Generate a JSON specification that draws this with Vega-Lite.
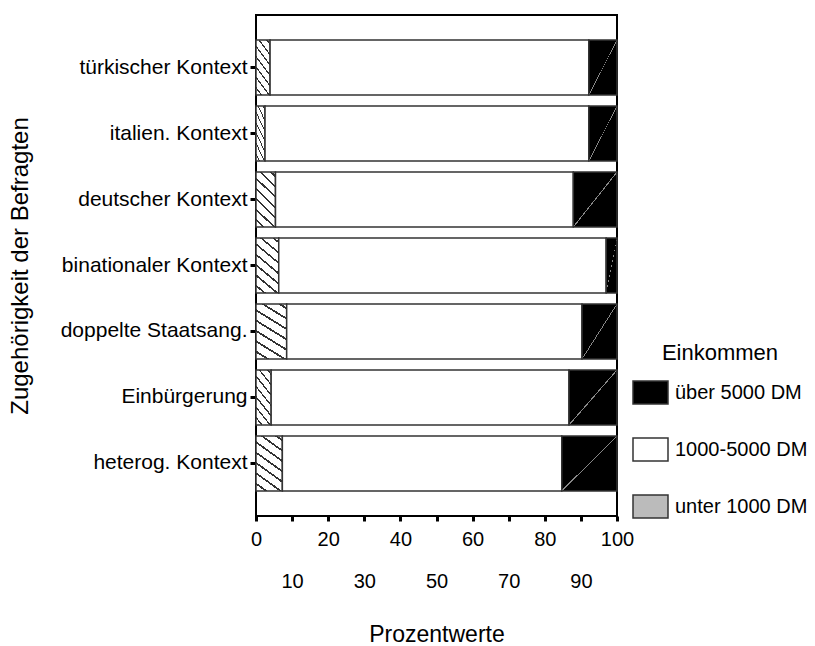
{
  "$schema": "https://vega.github.io/schema/vega-lite/v6.json",
  "autosize": {"type": "none"},
  "padding": {"left": 256, "top": 15, "right": 198, "bottom": 130},
  "width": 361,
  "height": 501,
  "background": "white",
  "config": {
    "font": "Liberation Sans",
    "view": {"stroke": "black", "strokeWidth": 2},
    "axis": {"labelColor": "black", "titleColor": "black", "titleFontWeight": "normal", "grid": false}
  },
  "data": {
    "values": [
      {"Gruppe": "türkischer Kontext", "Einkommen": "unter 1000 DM", "Prozent": 3.9},
      {"Gruppe": "türkischer Kontext", "Einkommen": "1000-5000 DM", "Prozent": 88.3},
      {"Gruppe": "türkischer Kontext", "Einkommen": "über 5000 DM", "Prozent": 7.8},
      {"Gruppe": "italien. Kontext", "Einkommen": "unter 1000 DM", "Prozent": 2.5},
      {"Gruppe": "italien. Kontext", "Einkommen": "1000-5000 DM", "Prozent": 89.7},
      {"Gruppe": "italien. Kontext", "Einkommen": "über 5000 DM", "Prozent": 7.8},
      {"Gruppe": "deutscher Kontext", "Einkommen": "unter 1000 DM", "Prozent": 5.4},
      {"Gruppe": "deutscher Kontext", "Einkommen": "1000-5000 DM", "Prozent": 82.5},
      {"Gruppe": "deutscher Kontext", "Einkommen": "über 5000 DM", "Prozent": 12.1},
      {"Gruppe": "binationaler Kontext", "Einkommen": "unter 1000 DM", "Prozent": 6.3},
      {"Gruppe": "binationaler Kontext", "Einkommen": "1000-5000 DM", "Prozent": 90.7},
      {"Gruppe": "binationaler Kontext", "Einkommen": "über 5000 DM", "Prozent": 3.0},
      {"Gruppe": "doppelte Staatsang.", "Einkommen": "unter 1000 DM", "Prozent": 8.5},
      {"Gruppe": "doppelte Staatsang.", "Einkommen": "1000-5000 DM", "Prozent": 81.8},
      {"Gruppe": "doppelte Staatsang.", "Einkommen": "über 5000 DM", "Prozent": 9.7},
      {"Gruppe": "Einbürgerung", "Einkommen": "unter 1000 DM", "Prozent": 4.2},
      {"Gruppe": "Einbürgerung", "Einkommen": "1000-5000 DM", "Prozent": 82.5},
      {"Gruppe": "Einbürgerung", "Einkommen": "über 5000 DM", "Prozent": 13.3},
      {"Gruppe": "heterog. Kontext", "Einkommen": "unter 1000 DM", "Prozent": 7.3},
      {"Gruppe": "heterog. Kontext", "Einkommen": "1000-5000 DM", "Prozent": 77.4},
      {"Gruppe": "heterog. Kontext", "Einkommen": "über 5000 DM", "Prozent": 15.3}
    ]
  },
  "transform": [
    {"calculate": "indexof(['unter 1000 DM','1000-5000 DM','über 5000 DM'], datum.Einkommen)", "as": "Reihenfolge"}
  ],
  "mark": {"type": "bar", "stroke": "#333", "strokeWidth": 1.5, "opacity": 1},
  "encoding": {
    "y": {
      "field": "Gruppe",
      "type": "nominal",
      "sort": ["türkischer Kontext", "italien. Kontext", "deutscher Kontext", "binationaler Kontext", "doppelte Staatsang.", "Einbürgerung", "heterog. Kontext"],
      "scale": {"paddingInner": 0.167, "paddingOuter": 0.38},
      "axis": {
        "title": "Zugehörigkeit der Befragten",
        "titleFontSize": 24,
        "titlePadding": 28,
        "labelFontSize": 21,
        "labelLimit": 400,
        "labelPadding": 3,
        "tickSize": 6,
        "tickWidth": 3,
        "tickColor": "black",
        "domain": false
      }
    },
    "x": {
      "field": "Prozent",
      "type": "quantitative",
      "stack": "zero",
      "scale": {"domain": [0, 100], "nice": false},
      "axis": {
        "title": "Prozentwerte",
        "titleFontSize": 23,
        "titlePadding": 32,
        "values": [0, 10, 20, 30, 40, 50, 60, 70, 80, 90, 100],
        "labelExpr": "datum.value % 20 === 0 ? datum.label : ['', datum.label]",
        "labelLineHeight": 42,
        "labelFontSize": 20,
        "labelPadding": 8,
        "labelOverlap": false,
        "labelFlush": false,
        "tickSize": 5,
        "tickWidth": 3,
        "tickColor": "black",
        "domain": false
      }
    },
    "order": {"field": "Reihenfolge", "type": "quantitative"},
    "fill": {
      "field": "Einkommen",
      "type": "nominal",
      "scale": {"domain": ["über 5000 DM", "1000-5000 DM", "unter 1000 DM"], "range": ["black", "white", "#bbbbbb"]},
      "condition": [
        {
          "test": "datum.Einkommen === 'unter 1000 DM'",
          "value": {
            "gradient": "linear", "x1": 1, "y1": 0, "x2": 0.585, "y2": 1.202,
            "stops": [
              {"offset": 0, "color": "white"},
              {"offset": 0.046, "color": "white"}, {"offset": 0.046, "color": "#333"}, {"offset": 0.074, "color": "#333"}, {"offset": 0.074, "color": "white"},
              {"offset": 0.186, "color": "white"}, {"offset": 0.186, "color": "#333"}, {"offset": 0.214, "color": "#333"}, {"offset": 0.214, "color": "white"},
              {"offset": 0.326, "color": "white"}, {"offset": 0.326, "color": "#333"}, {"offset": 0.354, "color": "#333"}, {"offset": 0.354, "color": "white"},
              {"offset": 0.466, "color": "white"}, {"offset": 0.466, "color": "#333"}, {"offset": 0.494, "color": "#333"}, {"offset": 0.494, "color": "white"},
              {"offset": 0.606, "color": "white"}, {"offset": 0.606, "color": "#333"}, {"offset": 0.634, "color": "#333"}, {"offset": 0.634, "color": "white"},
              {"offset": 0.746, "color": "white"}, {"offset": 0.746, "color": "#333"}, {"offset": 0.774, "color": "#333"}, {"offset": 0.774, "color": "white"},
              {"offset": 0.886, "color": "white"}, {"offset": 0.886, "color": "#333"}, {"offset": 0.914, "color": "#333"}, {"offset": 0.914, "color": "white"},
              {"offset": 1, "color": "white"}
            ]
          }
        },
        {
          "test": "datum.Einkommen === 'über 5000 DM'",
          "value": {
            "gradient": "linear", "x1": 0, "y1": 0, "x2": 1, "y2": 1,
            "stops": [
              {"offset": 0, "color": "black"},
              {"offset": 0.493, "color": "black"}, {"offset": 0.493, "color": "#888"},
              {"offset": 0.507, "color": "#888"}, {"offset": 0.507, "color": "black"},
              {"offset": 1, "color": "black"}
            ]
          }
        }
      ],
      "legend": {
        "title": "Einkommen",
        "orient": "none",
        "legendX": 376,
        "legendY": 328,
        "padding": 0,
        "titleFontSize": 22,
        "titleFontWeight": "normal",
        "titleColor": "black",
        "titleAnchor": "middle",
        "titleAlign": "center",
        "titlePadding": 9,
        "labelFontSize": 20,
        "labelColor": "black",
        "labelOffset": 6,
        "rowPadding": 24,
        "symbolType": "M-1,-0.657H1V0.657H-1Z",
        "symbolSize": 1225,
        "symbolStrokeColor": "#333",
        "symbolStrokeWidth": 1.5,
        "symbolOpacity": 1
      }
    }
  }
}
